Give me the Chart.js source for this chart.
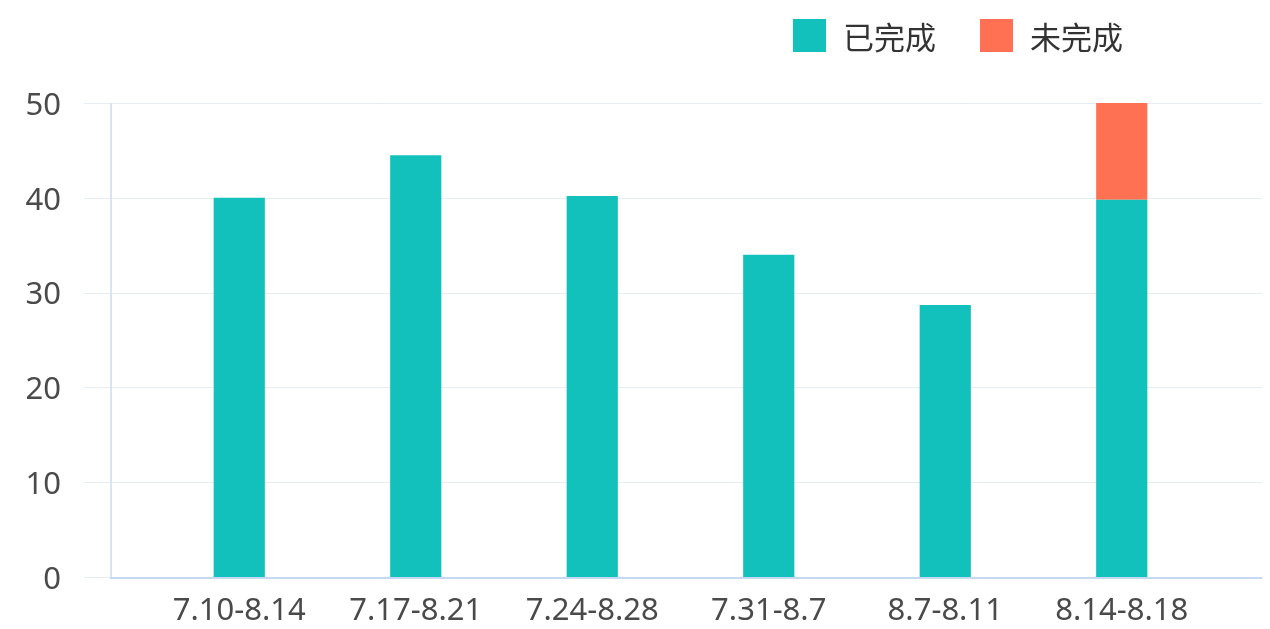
<!DOCTYPE html>
<html>
<head>
<meta charset="utf-8">
<title>完成情况</title>
<script src="https://cdn.jsdelivr.net/npm/chart.js@4.4.0/dist/chart.umd.min.js"></script>
<style>
  html, body { margin: 0; padding: 0; background: #fff; }
  canvas { display: block; }
</style>
</head>
<body>
<canvas id="weekChart" width="1270" height="629"></canvas>
<script>
  var weeks = ["7.10-8.14", "7.17-8.21", "7.24-8.28", "7.31-8.7", "8.7-8.11", "8.14-8.18"];
  var doneValues = [40, 44.5, 40.2, 34, 28.7, 39.8];
  var todoValues = [null, null, null, null, null, 10.2];
  var seriesNames = ["已完成", "未完成"];
  var seriesColors = ["#13c1bc", "#ff7152"];
  var yTicks = [0, 10, 20, 30, 40, 50];

  // grid lines and axis lines run wider than the bar bands, so they are drawn here
  var axisFrame = {
    id: 'axisFrame',
    beforeDatasetsDraw: function(chart) {
      var ctx = chart.ctx, y = chart.scales.y;
      ctx.save();
      ctx.lineWidth = 1;
      ctx.strokeStyle = '#e6ecf4';
      y.ticks.forEach(function(t) {
        var py = Math.round(y.getPixelForValue(t.value)) + 0.5;
        ctx.beginPath(); ctx.moveTo(84, py); ctx.lineTo(1262, py); ctx.stroke();
      });
      ctx.restore();
    },
    afterDatasetsDraw: function(chart) {
      var ctx = chart.ctx, y = chart.scales.y;
      var top = y.getPixelForValue(y.max), bottom = y.getPixelForValue(y.min);
      ctx.save();
      ctx.lineWidth = 2;
      ctx.strokeStyle = '#d6e4f4';
      ctx.beginPath(); ctx.moveTo(111, top); ctx.lineTo(111, bottom); ctx.stroke();
      ctx.strokeStyle = '#c4daf3';
      ctx.beginPath(); ctx.moveTo(110, bottom + 1); ctx.lineTo(1262, bottom + 1); ctx.stroke();
      ctx.restore();
    }
  };

  // legend sits top right, over the last bars
  var topLegend = {
    id: 'topLegend',
    afterDraw: function(chart) {
      var ctx = chart.ctx, x = 793;
      ctx.save();
      ctx.font = '31px "Noto Sans CJK SC"';
      ctx.textBaseline = 'middle';
      chart.data.datasets.forEach(function(ds) {
        ctx.fillStyle = ds.backgroundColor;
        ctx.fillRect(x, 19, 33, 33);
        ctx.fillStyle = '#333';
        ctx.fillText(ds.label, x + 50, 37);
        x += 50 + ctx.measureText(ds.label).width + 44;
      });
      ctx.restore();
    }
  };

  new Chart(document.getElementById('weekChart').getContext('2d'), {
    type: 'bar',
    data: {
      labels: weeks,
      datasets: [
        { label: seriesNames[0], data: doneValues, backgroundColor: seriesColors[0] },
        { label: seriesNames[1], data: todoValues, backgroundColor: seriesColors[1] }
      ]
    },
    options: {
      responsive: false,
      animation: false,
      layout: { padding: { top: 103, right: 60, bottom: 2, left: 0 } },
      datasets: { bar: { categoryPercentage: 1, barPercentage: 0.29 } },
      plugins: { legend: { display: false }, tooltip: { enabled: false } },
      scales: {
        x: {
          stacked: true,
          grid: { display: false, drawTicks: false },
          border: { display: false },
          ticks: { color: '#4a4a4a', font: { family: 'Noto Sans', size: 31 }, padding: 16, maxRotation: 0, autoSkip: false },
          afterFit: function(scale) { scale.height = 50; }
        },
        y: {
          stacked: true,
          min: yTicks[0],
          max: yTicks[yTicks.length - 1],
          grid: { display: false, drawTicks: false },
          border: { display: false },
          ticks: { stepSize: yTicks[1] - yTicks[0], color: '#4a4a4a', font: { family: 'Noto Sans', size: 31 }, padding: 90, labelOffset: 3 },
          afterFit: function(scale) {
            // the wide tick padding would otherwise push the plot area in vertically too
            scale.width = 151;
            scale.paddingTop = 0;
            scale.paddingBottom = 0;
          }
        }
      }
    },
    plugins: [axisFrame, topLegend]
  });
</script>
</body>
</html>
